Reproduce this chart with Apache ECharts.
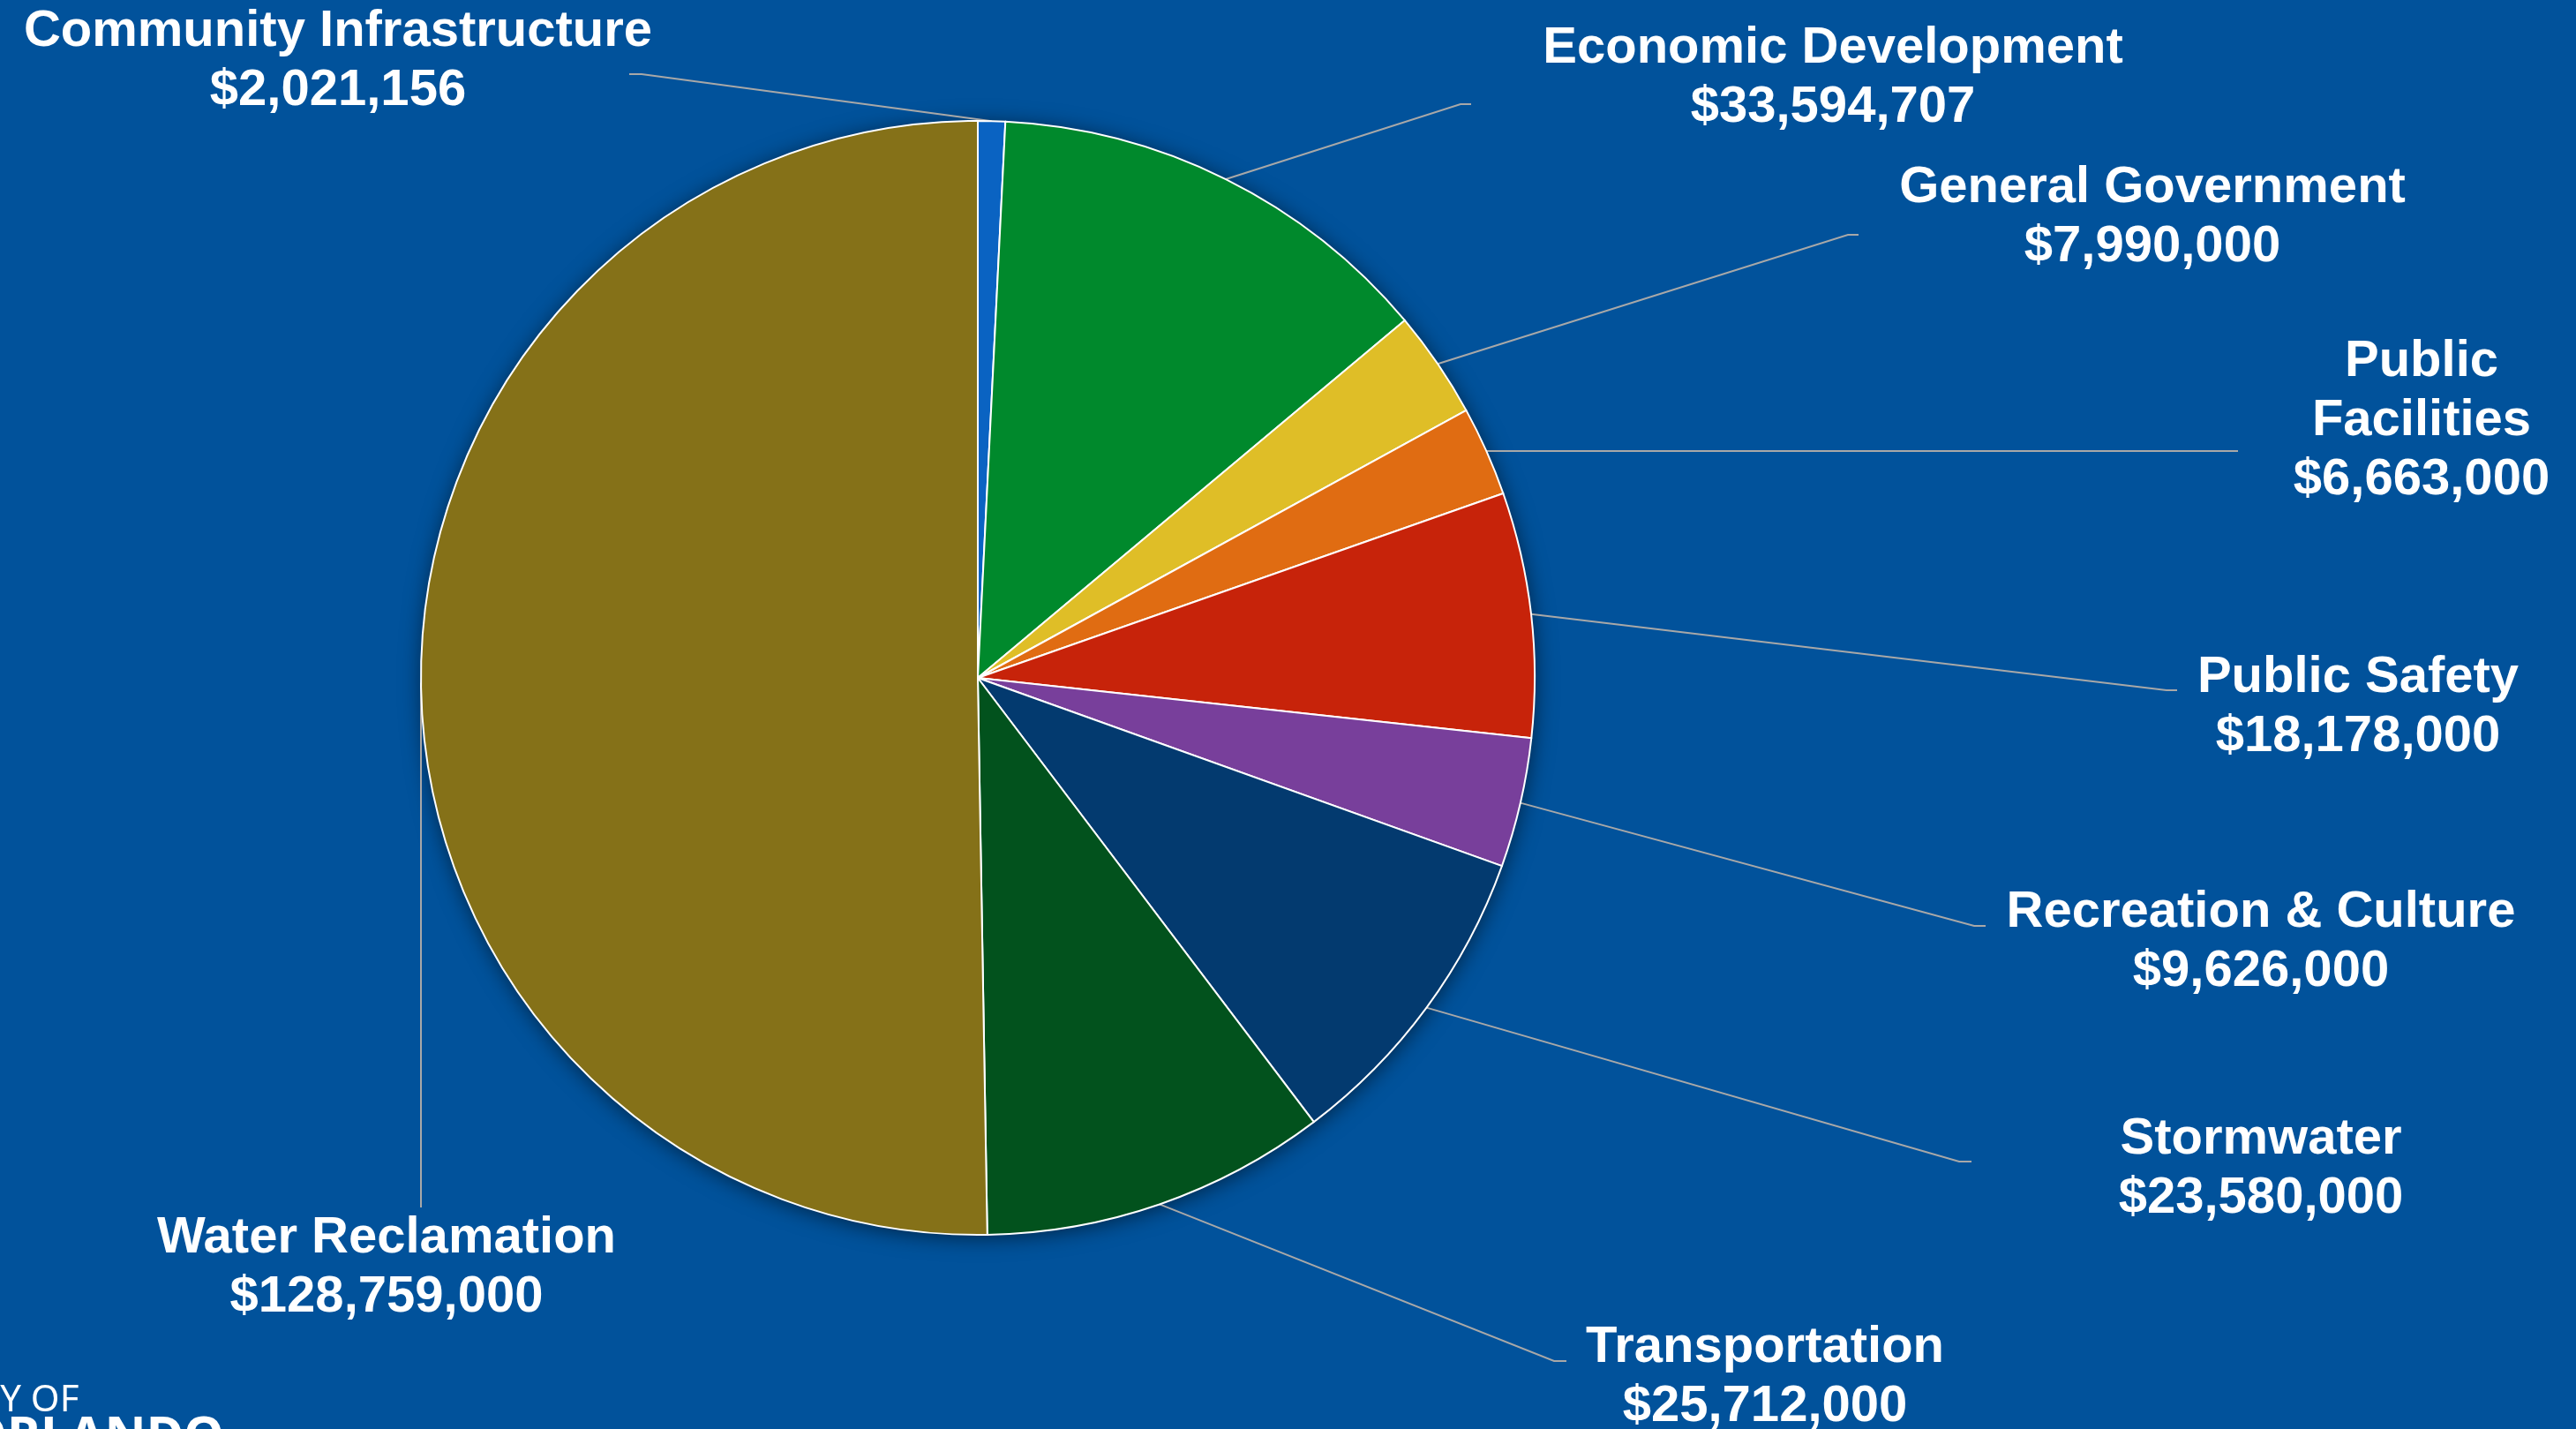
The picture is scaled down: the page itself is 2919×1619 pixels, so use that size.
<!DOCTYPE html>
<html><head><meta charset="utf-8">
<script src="https://cdn.jsdelivr.net/npm/echarts@6/dist/echarts.min.js"></script>
<style>html,body{margin:0;padding:0;background:#01529B;overflow:hidden}#c{width:2919px;height:1619px;}</style>
</head><body><div id="c"></div>
<script>
const categories = ['Community Infrastructure','Economic Development','General Government','Public Facilities','Public Safety','Recreation & Culture','Stormwater','Transportation','Water Reclamation'];
const values = [2021156,33594707,7990000,6663000,18178000,9626000,23580000,25712000,128759000];
const colors = ['#0A63C2','#00892C','#DFBE27','#E06C12','#C7230A','#783F9B','#033A6F','#02521D','#857118'];
// label block centres and leader-line end points (layout only)
const labelCenters = [[383,69],[2077,88],[2439,246],[2744,477],[2672,801],[2562,1067],[2562,1324],[2000,1560],[438,1436]];
const leaderEnds = [
  [[727,84],[713,84]],
  [[1655,118],[1667,118]],
  [[2094,266],[2106,266]],
  [[2522,511],[2536,511]],
  [[2455,782],[2467,782]],
  [[2237,1049],[2250,1049]],
  [[2220,1316],[2234,1316]],
  [[1761,1542],[1775,1542]],
  [[477,1358],[477,1368]]
];
const total = values.reduce((a,b)=>a+b,0);
const FONT = '"Liberation Sans", Arial, sans-serif';
const chart = echarts.init(document.getElementById('c'), null, {renderer:'canvas'});
const fmt = v => '$' + v.toLocaleString('en-US');
chart.setOption({
  backgroundColor: '#01529B',
  animation: false,
  graphic: [
    {type:'text', left:-64, top:1566, style:{text:'CITY OF', fill:'#fff', font:'normal 42px "Noto Sans", sans-serif'}},
    {type:'text', left:-38, top:1600, style:{text:'ORLANDO', fill:'#fff', font:'bold 58px "Noto Sans", sans-serif'}}
  ],
  series: [
    {
      type:'pie', silent:true, center:[1108,768], radius:631, z:1,
      label:{show:false}, labelLine:{show:false},
      itemStyle:{color:'#01529B', shadowBlur:24, shadowColor:'rgba(0,0,0,0.55)', shadowOffsetX:1, shadowOffsetY:3},
      data:[{value:total, name:'all'}]
    },
    {
      type:'pie', center:[1108,768], radius:631, startAngle:90, clockwise:true, z:2,
      avoidLabelOverlap:false,
      itemStyle:{borderColor:'#ffffff', borderWidth:2},
      label:{
        show:true, position:'outside', color:'#fff', fontFamily:FONT, fontWeight:'bold',
        fontSize:58, lineHeight:67, align:'center',
        formatter: p => (p.name === 'Public Facilities' ? 'Public\nFacilities' : p.name) + '\n' + fmt(p.value)
      },
      labelLine:{show:true, length:20, length2:20, lineStyle:{color:'#A8A8A8', width:2}},
      labelLayout: function(params){
        const i = params.dataIndex;
        const start = params.labelLinePoints ? params.labelLinePoints[0] : leaderEnds[i][0];
        return {
          x: labelCenters[i][0], y: labelCenters[i][1], align:'center', verticalAlign:'middle',
          labelLinePoints: [start, leaderEnds[i][0], leaderEnds[i][1]]
        };
      },
      data: categories.map((n,i)=>({name:n, value:values[i], itemStyle:{color:colors[i]}}))
    }
  ]
});
</script></body></html>
